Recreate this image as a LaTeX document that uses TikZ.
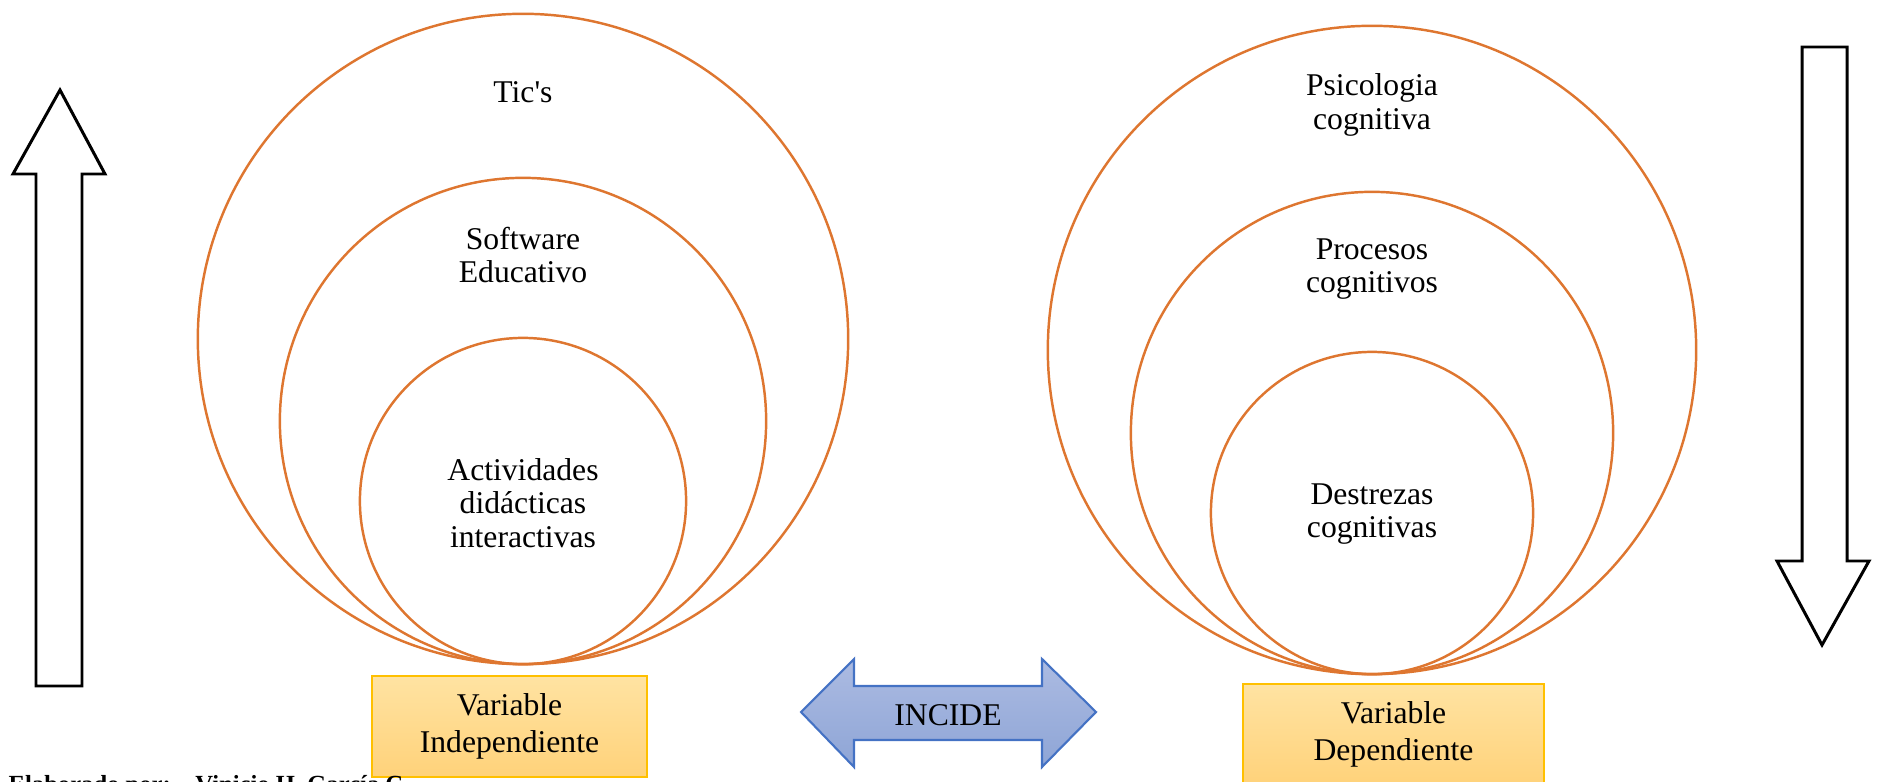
\documentclass[tikz,border=0pt]{standalone}
\usepackage{fontspec}
\setmainfont{Liberation Serif}[Ligatures=TeXOff]
\definecolor{ringc}{RGB}{222,118,48}
\definecolor{boxtop}{RGB}{255,227,162}
\definecolor{boxbot}{RGB}{255,210,122}
\definecolor{boxline}{RGB}{255,192,0}
\definecolor{blutop}{RGB}{172,187,226}
\definecolor{blubot}{RGB}{142,165,214}
\definecolor{bluline}{RGB}{68,114,196}
\begin{document}
\begin{tikzpicture}[x=0.01cm,y=-0.01cm,
  ring/.style={circle,draw=ringc,line width=0.7pt,inner sep=0pt},
  lbl/.style={align=center,font=\fontsize{9}{9.6}\selectfont},
  varbox/.style={draw=boxline,line width=0.6pt,top color=boxtop,bottom color=boxbot,
    align=center,inner sep=0pt,font=\fontsize{9}{10.6}\selectfont},
  bigarrow/.style={draw=black,line width=0.85pt,fill=white},
  incarrow/.style={draw=bluline,line width=0.6pt,top color=blutop,bottom color=blubot}]
\useasboundingbox (0,0) rectangle (1878,782);
% left circles
\node[ring,minimum size=6.5cm]  (ticsC) at (523,339) {};
\node[ring,minimum size=4.86cm] (softC) at (523,421) {};
\node[ring,minimum size=3.26cm] (actC)  at (523,501) {};
% right circles
\node[ring,minimum size=6.48cm] (psiC)  at (1372,350) {};
\node[ring,minimum size=4.82cm] (procC) at (1372,433) {};
\node[ring,minimum size=3.22cm] (desC)  at (1372,513) {};
% labels
\node[lbl] (tics) at (523,92) {Tic's};
\node[lbl] (soft) at (523,255) {Software\\Educativo};
\node[lbl] (act)  at (523,503) {Actividades\\didácticas\\interactivas};
\node[lbl] (psi)  at (1372,105) {Psicologia\\cognitiva};
\node[lbl] (proc) at (1372,269) {Procesos\\cognitivos};
\node[lbl] (des)  at (1372,514) {Destrezas\\cognitivas};
% boxes
\node[varbox,minimum width=2.75cm,minimum height=1.01cm] (vind) at (509.5,726.5) {Variable\\Independiente};
\node[varbox,minimum width=3.01cm,minimum height=1.01cm] (vdep) at (1393.5,734.5) {Variable\\Dependiente};
% double arrow
\path[incarrow] (801,712) -- (854,659) -- (854,686) -- (1042,686) -- (1042,659)
  -- (1096,712) -- (1042,767) -- (1042,740) -- (854,740) -- (854,767) -- cycle;
\node[font=\fontsize{9}{10.6}\selectfont] (incide) at (948,715) {INCIDE};
% up arrow
\path[bigarrow] (60,90) -- (105,174) -- (82,174) -- (82,686) -- (36,686) -- (36,174) -- (13,174) -- cycle;
% down arrow
\path[bigarrow] (1802,47) -- (1847,47) -- (1847,561) -- (1869,561) -- (1822,645) -- (1777,561) -- (1802,561) -- cycle;
% clipped credit line
\node[anchor=base west,inner sep=0pt,font=\bfseries\fontsize{7}{8}\selectfont] (credit) at (8,792) {Elaborado por:\quad Vinicio H. García C.};
\end{tikzpicture}
\end{document}
